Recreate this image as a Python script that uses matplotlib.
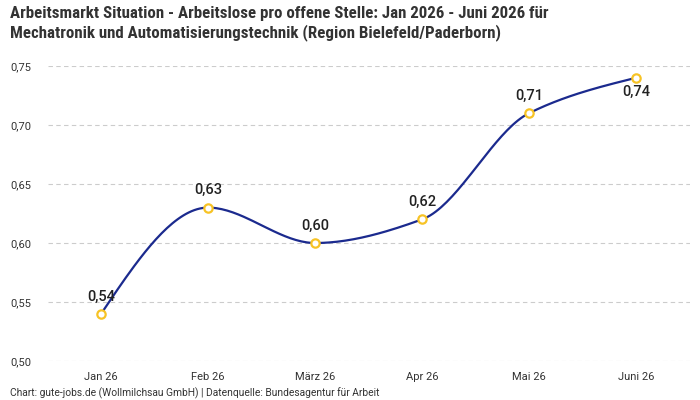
import numpy as np
import matplotlib
matplotlib.use("Agg")
import matplotlib.pyplot as plt
from matplotlib import font_manager

# ==========================
# Data
# ==========================
months = ["Jan 26", "Feb 26", "März 26", "Apr 26", "Mai 26", "Juni 26"]
values = [0.54, 0.63, 0.60, 0.62, 0.71, 0.74]
labels = ["0,54", "0,63", "0,60", "0,62", "0,71", "0,74"]
label_below = [False, False, False, False, False, True]

y_ticks = [0.50, 0.55, 0.60, 0.65, 0.70, 0.75]
y_tick_labels = ["0,50", "0,55", "0,60", "0,65", "0,70", "0,75"]

title = ("Arbeitsmarkt Situation - Arbeitslose pro offene Stelle: Jan 2026 - Juni 2026 für\n"
         "Mechatronik und Automatisierungstechnik (Region Bielefeld/Paderborn)")
footer = "Chart: gute-jobs.de (Wollmilchsau GmbH) | Datenquelle: Bundesagentur für Arbeit"

LINE = "#1b2a8e"
MARKER = "#f7c325"


def pick_font(names):
    avail = {f.name for f in font_manager.fontManager.ttflist}
    for n in names:
        if n in avail:
            return n
    return "DejaVu Sans"


title_font = pick_font(["Liberation Sans Narrow", "Roboto Condensed", "Roboto"])
body_font = pick_font(["Roboto", "Noto Sans"])


# ==========================
# Monotone cubic curve (drawing style only)
# ==========================
def monotone_curve(x, y, n=40):
    x = np.asarray(x, float)
    y = np.asarray(y, float)
    h = np.diff(x)
    d = np.diff(y) / h
    m = np.zeros_like(y)
    for i in range(1, len(y) - 1):
        if d[i - 1] * d[i] <= 0:
            m[i] = 0
        else:
            m[i] = 3 * (h[i - 1] + h[i]) / ((2 * h[i] + h[i - 1]) / d[i - 1] + (h[i] + 2 * h[i - 1]) / d[i])
    # d3 style endpoint slopes
    m[0] = (3 * d[0] - m[1]) / 2 if d[0] * (3 * d[0] - m[1]) > 0 else 0
    m[-1] = (3 * d[-1] - m[-2]) / 2 if d[-1] * (3 * d[-1] - m[-2]) > 0 else 0
    xs, ys = [], []
    for i in range(len(x) - 1):
        t = np.linspace(0, 1, n)
        h00 = 2 * t**3 - 3 * t**2 + 1
        h10 = t**3 - 2 * t**2 + t
        h01 = -2 * t**3 + 3 * t**2
        h11 = t**3 - t**2
        xs.append(x[i] + t * h[i])
        ys.append(h00 * y[i] + h10 * h[i] * m[i] + h01 * y[i + 1] + h11 * h[i] * m[i + 1])
    return np.concatenate(xs), np.concatenate(ys)


# ==========================
# Plot
# ==========================
fig = plt.figure(figsize=(7, 4), dpi=100)
ax = fig.add_axes([0.068, 0.0975, 0.917, 0.7375])

x = np.arange(len(months))
cx, cy = monotone_curve(x, values)
ax.plot(cx, cy, color=LINE, lw=1.6, zorder=2, clip_on=False)
ax.plot(x, values, "o", ms=6, mfc="white", mec=MARKER, mew=1.6, zorder=3, clip_on=False)

for xi, v, lab, below in zip(x, values, labels, label_below):
    off = -10.5 if below else 12.5
    ax.annotate(lab, (xi, v), xytext=(0, off), textcoords="offset points",
                ha="center", va="center", fontsize=10.5, color="#222222",
                fontfamily=body_font, fontweight="medium")

ax.set_xlim(-0.5, len(months) - 0.5)
ax.set_ylim(0.50, 0.75)
ax.set_xticks(x)
ax.set_xticklabels(months, fontsize=8, color="#333333", fontfamily=body_font)
ax.set_yticks(y_ticks)
ax.set_yticklabels(y_tick_labels, fontsize=8, color="#333333", fontfamily=body_font, ha="left")
ax.tick_params(axis="y", length=0, pad=27)
ax.tick_params(axis="x", length=0, pad=8)
ax.grid(axis="y", color="#cccccc", linestyle=(0, (4, 3)), lw=0.8)
ax.set_axisbelow(True)
for s in ax.spines.values():
    s.set_visible(False)

fig.text(0.014, 0.985, title, ha="left", va="top", fontsize=12.2, fontweight="bold",
         color="#333333", fontfamily=title_font, linespacing=1.2)
fig.text(0.014, 0.017, footer, ha="left", va="center", fontsize=7.4,
         color="#333333", fontfamily=body_font)

fig.savefig("out.png", dpi=100)
